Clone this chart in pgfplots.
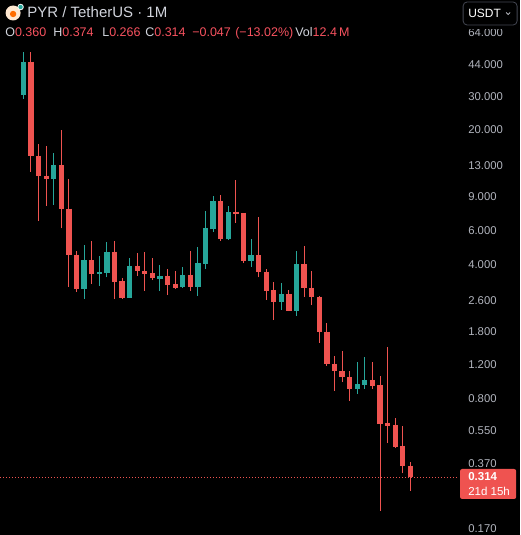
\documentclass[border=0pt]{standalone}
\usepackage{pgfplots}
\pgfplotsset{compat=1.18}
\usepackage{fontspec}
\setmainfont{Liberation Sans}
\definecolor{tvred}{HTML}{EF5350}
\definecolor{tvgreen}{HTML}{26A69A}
\definecolor{tvtext}{HTML}{D1D4DC}
\definecolor{tvaxis}{HTML}{B2B5BE}
\definecolor{tvnum}{HTML}{F7525F}
\definecolor{tvbtn}{HTML}{434651}

\begin{document}
\begin{tikzpicture}[x=1pt,y=1pt]
\fill[black] (0,0) rectangle (520,535);
\begin{axis}[
    at={(0,0)}, anchor=south west, scale only axis,
    width=458pt, height=535pt,
    ymode=log, ymin=0.1567, ymax=95, xmin=-2.07, xmax=58.29,
    axis line style={draw=none}, xtick=\empty,
    major tick length=0pt, minor tick length=0pt,
    ytick={0.17,0.37,0.55,0.8,1.2,1.8,2.6,4,6,9,13,20,30,44,64},
    yticklabels={0.170,0.370,0.550,0.800,1.200,1.800,2.600,4.000,6.000,9.000,13.000,20.000,30.000,44.000,64.000},
    yticklabel pos=right,
    yticklabel style={anchor=west, inner sep=0pt, xshift=10pt, text=tvaxis,
        font=\fontsize{11.3}{12}\selectfont},
    unbounded coords=jump,
]
% wicks
\addplot[tvred, line width=1pt] coordinates {
    (2,12.16)(2,51.2)(2,nan) (3,6.76)(3,16.94)(3,nan) (4,8.06)(4,16.54)(4,nan)
    (6,6.17)(6,20.03)(6,nan) (7,3.07)(7,11.10)(7,nan) (8,2.89)(8,4.72)(8,nan)
    (10,3.17)(10,5.30)(10,nan) (13,2.64)(13,5.30)(13,nan) (14,2.65)(14,3.39)(14,nan)
    (16,3.49)(16,4.58)(16,nan) (17,2.92)(17,4.66)(17,nan) (18,3.32)(18,4.31)(18,nan)
    (20,2.78)(20,3.79)(20,nan) (21,2.98)(21,3.71)(21,nan) (23,2.92)(23,4.70)(23,nan)
    (27,5.32)(27,9.20)(27,nan) (29,6.60)(29,11.01)(29,nan) (30,4.06)(30,7.44)(30,nan)
    (32,3.43)(32,7.04)(32,nan) (33,2.62)(33,3.79)(33,nan) (34,2.06)(34,3.26)(34,nan)
    (36,2.29)(36,2.95)(36,nan) (38,2.72)(38,4.99)(38,nan) (39,2.46)(39,3.70)(39,nan)
    (40,1.57)(40,2.74)(40,nan) (41,1.19)(41,1.98)(41,nan) (42,0.883)(42,1.34)(42,nan)
    (43,0.983)(43,1.42)(43,nan) (44,0.783)(44,1.117)(44,nan) (47,0.898)(47,1.249)(47,nan)
    (48,0.210)(48,1.052)(48,nan) (49,0.473)(49,1.495)(49,nan) (50,0.443)(50,0.634)(50,nan)
    (51,0.328)(51,0.578)(51,nan) (52,0.266)(52,0.374)
};
\addplot[tvgreen, line width=1pt] coordinates {
    (1,29.0)(1,51.2)(1,nan) (5,8.16)(5,15.15)(5,nan) (9,2.65)(9,5.05)(9,nan)
    (11,3.10)(11,4.43)(11,nan) (12,3.43)(12,5.26)(12,nan) (15,2.68)(15,4.31)(15,nan)
    (19,2.92)(19,3.98)(19,nan) (22,3.01)(22,3.87)(22,nan) (24,2.74)(24,4.92)(24,nan)
    (25,3.80)(25,7.59)(25,nan) (26,5.93)(26,9.09)(26,nan) (28,5.37)(28,8.06)(28,nan)
    (31,3.90)(31,5.43)(31,nan) (35,2.32)(35,3.19)(35,nan) (37,2.17)(37,4.70)(37,nan)
    (45,0.849)(45,1.249)(45,nan) (46,0.901)(46,1.326)
};
% bodies (open -> close)
\addplot[tvred, line width=5.3pt] coordinates {
    (2,45.4)(2,14.72)(2,nan) (3,14.72)(3,11.59)(3,nan) (4,11.59)(4,11.18)(4,nan)
    (6,13.17)(6,7.81)(6,nan) (7,7.81)(7,4.48)(7,nan) (8,4.50)(8,2.98)(8,nan)
    (10,4.22)(10,3.57)(10,nan) (13,4.66)(13,3.26)(13,nan) (14,3.28)(14,2.69)(14,nan)
    (16,3.93)(16,3.71)(16,nan) (17,3.71)(17,3.57)(17,nan) (18,3.60)(18,3.39)(18,nan)
    (20,3.49)(20,3.13)(20,nan) (21,3.16)(21,3.01)(21,nan) (23,3.53)(23,3.04)(23,nan)
    (27,8.56)(27,5.41)(27,nan) (29,7.53)(29,7.35)(29,nan) (30,7.44)(30,4.19)(30,nan)
    (32,4.48)(32,3.67)(32,nan) (33,3.67)(33,2.92)(33,nan) (34,2.95)(34,2.56)(34,nan)
    (36,2.81)(36,2.30)(36,nan) (38,4.02)(38,3.03)(38,nan) (39,3.03)(39,2.72)(39,nan)
    (40,2.72)(40,1.79)(40,nan) (41,1.79)(41,1.215)(41,nan) (42,1.22)(42,1.12)(42,nan)
    (43,1.12)(43,1.037)(43,nan) (44,1.04)(44,0.901)(44,nan) (47,1.00)(47,0.934)(47,nan)
    (48,0.945)(48,0.592)(48,nan) (49,0.602)(49,0.578)(49,nan) (50,0.585)(50,0.448)(50,nan)
    (51,0.455)(51,0.360)(51,nan) (52,0.360)(52,0.314)
};
\addplot[tvgreen, line width=5.3pt] coordinates {
    (1,30.46)(1,45.4)(1,nan) (5,11.18)(5,13.17)(5,nan) (9,2.98)(9,4.22)(9,nan)
    (11,3.57)(11,3.65)(11,nan) (12,3.62)(12,4.66)(12,nan) (15,2.69)(15,3.93)(15,nan)
    (19,3.36)(19,3.49)(19,nan) (22,3.04)(22,3.53)(22,nan) (24,3.05)(24,4.06)(24,nan)
    (25,4.02)(25,6.17)(25,nan) (26,6.10)(26,8.56)(26,nan) (28,5.41)(28,7.53)(28,nan)
    (31,4.19)(31,4.48)(31,nan) (35,2.56)(35,2.81)(35,nan) (37,2.30)(37,4.02)(37,nan)
    (45,0.90)(45,0.957)(45,nan) (46,0.945)(46,1.004)
};
% last price line
\addplot[tvred, line width=0.7pt, dash pattern=on 1pt off 2pt] coordinates {(-2.07,0.314) (58.29,0.314)};
\end{axis}

% header
\fill[black] (459,506) rectangle (520,535);
\draw[tvbtn, fill=black, rounded corners=4pt, line width=0.8pt] (463,510) rectangle (517,533);
\node[anchor=base west, inner sep=0pt, text=white, font=\fontsize{12}{12}\selectfont] at (468,517) {USDT};
\draw[tvtext, line width=0.8pt] (506,522.5) -- (508,520.5) -- (510,522.5);

\fill[white!82!orange] (13,522) circle (7.5);
\fill[orange!85!red] (13,521) circle (3.2);
\fill[white] (20.5,528) circle (3.2);
\fill[tvgreen] (20.5,528) circle (2.2);
\node[anchor=base west, inner sep=0pt, text=tvtext, font=\fontsize{15}{15}\selectfont] at (27,517) {PYR / TetherUS · 1M};

\begin{scope}[every node/.style={anchor=base west, inner sep=0pt, font=\fontsize{12.5}{13}\selectfont}]
\node at (5,498)   {\color{tvtext}O\color{tvnum}0.360};
\node at (53,498)  {\color{tvtext}H\color{tvnum}0.374};
\node at (102,498) {\color{tvtext}L\color{tvnum}0.266};
\node at (145,498) {\color{tvtext}C\color{tvnum}0.314};
\node at (192,498) {\color{tvnum}−0.047};
\node at (235,498) {\color{tvnum}(−13.02\%)};
\node at (295,498) {\color{tvtext}Vol\color{tvnum}12.4\,M};
\end{scope}

% price label
\fill[tvred, rounded corners=2pt] (460,36) rectangle (516,66);
\node[anchor=base west, inner sep=0pt, text=white, font=\fontsize{11.5}{12}\selectfont\bfseries] at (468,54) {0.314};
\node[anchor=base west, inner sep=0pt, text=white, font=\fontsize{11.5}{12}\selectfont] at (468,39.5) {21d 15h};
\end{tikzpicture}
\end{document}
